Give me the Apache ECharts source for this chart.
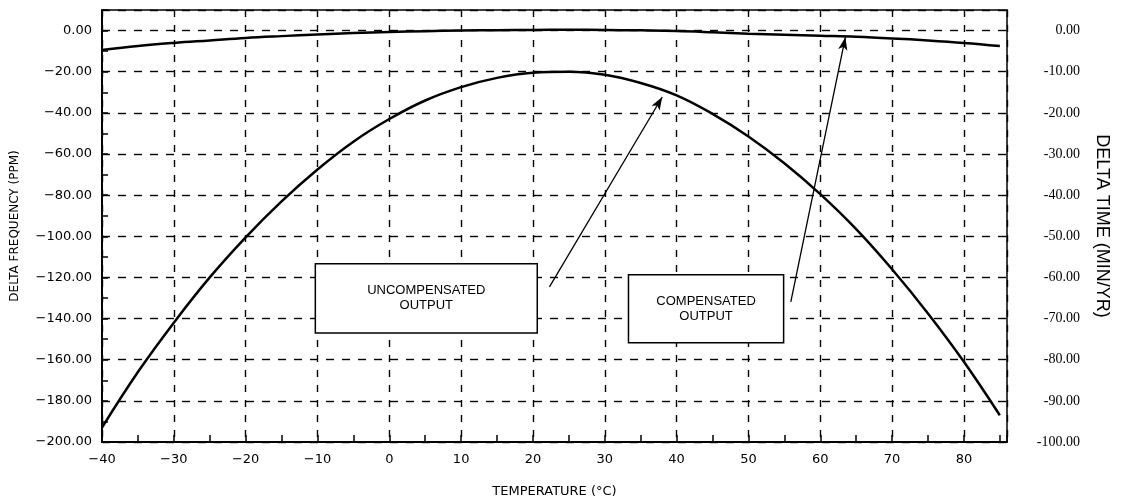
<!DOCTYPE html>
<html>
<head>
<meta charset="utf-8">
<script src="https://cdn.jsdelivr.net/npm/echarts@6/dist/echarts.min.js"></script>
<style>
  html, body { margin: 0; padding: 0; background: #fff; }
  #chart { width: 1121px; height: 500px; }
</style>
</head>
<body>
<div id="chart"></div>
<script>
// temperature (C) every 5 degrees
var temps = [-40, -35, -30, -25, -20, -15, -10, -5, 0, 5, 10, 15, 20, 25, 30, 35, 40, 45, 50, 55, 60, 65, 70, 75, 80, 85];
// delta frequency (ppm)
var uncompensated = [-193, -166, -142, -120, -100.5, -83, -67.5, -54, -43, -34, -27.5, -23, -20.5, -20, -21.5, -25.5, -31.5, -40.5, -51.5, -64.5, -79.5, -96.5, -116, -137.5, -161, -187];
var compensated = [-9.5, -7.5, -6, -4.8, -3.6, -2.7, -1.9, -1.2, -0.7, -0.3, 0, 0.2, 0.3, 0.4, 0.3, 0.1, -0.2, -0.8, -1.5, -2, -2.5, -3, -3.8, -4.8, -6, -7.5];

var xTicks = [-40, -30, -20, -10, 0, 10, 20, 30, 40, 50, 60, 70, 80];

function pairs(xs, ys) {
    var out = [];
    for (var i = 0; i < xs.length; i++) out.push([xs[i], ys[i]]);
    return out;
}
function minus(s) { return String(s).replace('-', '\u2212'); }

var chart = echarts.init(document.getElementById('chart'));
var sans = 'DejaVu Sans';
var dash = { color: '#000', width: 1.4, type: [8, 8] };

var option = {
    animation: false,
    backgroundColor: '#fff',
    grid: { left: 102, right: 114, top: 10, bottom: 58, outerBoundsMode: 'none' },
    xAxis: [
        {
            type: 'value', position: 'bottom', min: -40, max: 86, interval: 5,
            name: 'TEMPERATURE (\u00b0C)', nameLocation: 'middle', nameGap: 43,
            nameTextStyle: { color: '#000', fontFamily: sans, fontSize: 13 },
            axisLine: { show: true, onZero: false, lineStyle: { color: '#000', width: 2 } },
            axisTick: { show: true, inside: true, length: 7, lineStyle: { color: '#000', width: 1.5 } },
            axisLabel: {
                color: '#000', fontFamily: sans, fontSize: 13, margin: 11,
                formatter: function (v) { return xTicks.indexOf(v) >= 0 ? minus(v) : ''; }
            },
            splitLine: { show: false }
        },
        {
            type: 'value', position: 'top', min: -40, max: 86, interval: 10,
            axisLine: { show: true, onZero: false, lineStyle: { color: '#000', width: 1.5 } },
            axisTick: { show: false },
            axisLabel: { show: false },
            splitLine: { show: true, lineStyle: { color: '#000', width: 1.4, type: [7, 8] } }
        }
    ],
    yAxis: [
        {
            type: 'value', position: 'left', min: -200, max: 10, interval: 10,
            name: 'DELTA FREQUENCY (PPM)', nameLocation: 'middle', nameRotate: 90, nameGap: 81,
            nameTextStyle: { color: '#000', fontFamily: sans, fontSize: 12 },
            axisLine: { show: true, onZero: false, lineStyle: { color: '#000', width: 2 } },
            axisTick: { show: true, inside: true, length: 6, lineStyle: { color: '#000', width: 1.5 } },
            axisLabel: {
                color: '#000', fontFamily: sans, fontSize: 13, margin: 10,
                formatter: function (v) { return (v % 20 === 0 && v <= 0) ? minus(v.toFixed(2)) : ''; }
            },
            splitLine: { show: false }
        },
        {
            type: 'value', position: 'right', min: -100, max: 5, interval: 10,
            name: 'DELTA TIME (MIN/YR)', nameLocation: 'middle', nameRotate: -90, nameGap: 86,
            nameTextStyle: { color: '#000', fontFamily: 'Liberation Sans', fontSize: 18 },
            axisLine: { show: true, onZero: false, lineStyle: { color: '#000', width: 1.5 } },
            axisTick: { show: false },
            axisLabel: {
                color: '#000', fontFamily: 'Liberation Serif', fontSize: 14, margin: 73, align: 'right',
                formatter: function (v) { return v <= 0 ? v.toFixed(2) : ''; }
            },
            splitLine: { show: true, lineStyle: dash }
        }
    ],
    series: [
        {
            name: 'uncompensated', type: 'line', xAxisIndex: 0, yAxisIndex: 0,
            data: pairs(temps, uncompensated), smooth: 0.4, showSymbol: false,
            lineStyle: { color: '#000', width: 2.5 },
            markArea: {
                silent: true,
                itemStyle: { color: '#fff', borderColor: '#000', borderWidth: 1.5 },
                label: {
                    show: true, position: 'inside', color: '#000',
                    fontFamily: 'Liberation Sans', fontSize: 13, lineHeight: 15
                },
                data: [
                    [{ name: 'UNCOMPENSATED\nOUTPUT', coord: [-10.3, -113.4] }, { coord: [20.6, -147] }],
                    [{ name: 'COMPENSATED\nOUTPUT', coord: [33.3, -118.7] }, { coord: [54.9, -151.8] }]
                ]
            }
        },
        {
            name: 'compensated', type: 'line', xAxisIndex: 0, yAxisIndex: 0,
            data: pairs(temps, compensated), smooth: 0.4, showSymbol: false,
            lineStyle: { color: '#000', width: 2.5 },
            markLine: {
                silent: true,
                symbol: ['none', 'arrow'],
                symbolSize: [7, 13],
                label: { show: false },
                lineStyle: { color: '#000', width: 1.3, type: 'solid' },
                data: [
                    [{ coord: [22.3, -124.6] }, { coord: [38.0, -32.3] }],
                    [{ coord: [55.9, -131.9] }, { coord: [63.5, -3.2] }]
                ]
            }
        }
    ]
};

chart.setOption(option);
</script>
</body>
</html>
